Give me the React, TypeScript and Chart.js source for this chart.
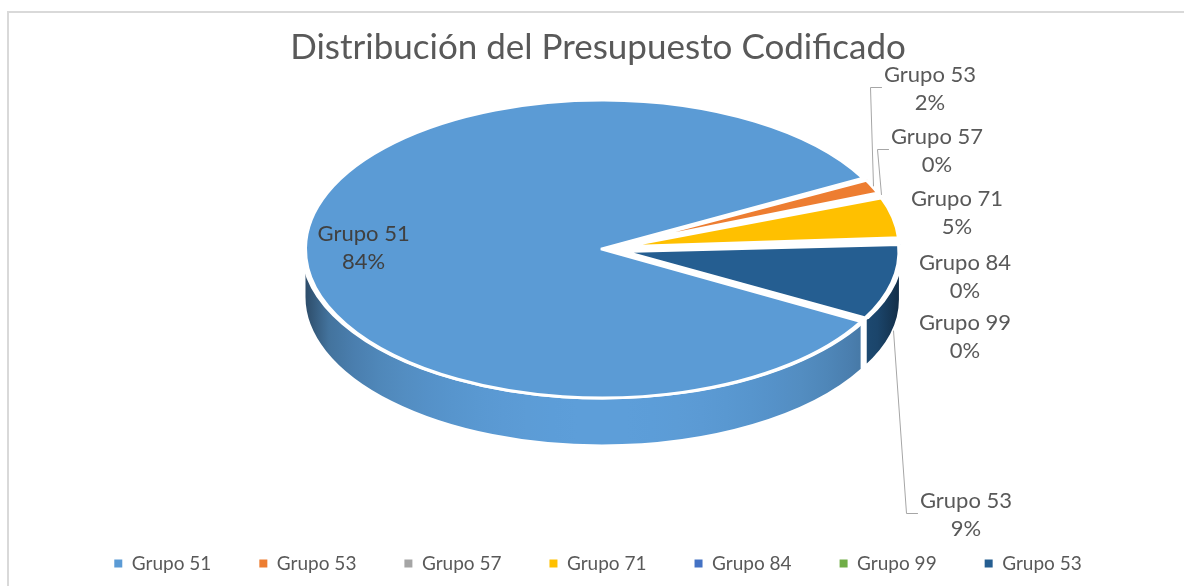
import React, { useEffect, useRef } from 'react';
import { Chart, registerables } from 'chart.js';

Chart.register(...registerables);

// ---------- data ----------
const CHART_TITLE = 'Distribución del Presupuesto Codificado';
const CATEGORIES = ['Grupo 51', 'Grupo 53', 'Grupo 57', 'Grupo 71', 'Grupo 84', 'Grupo 99', 'Grupo 53'];
const SHARES = [84, 2, 0, 5, 0, 0, 9];
const SLICE_COLORS = ['#5B9BD5', '#ED7D31', '#A5A5A5', '#FFC000', '#4472C4', '#70AD47', '#255E91'];

// ---------- layout / style ----------
const W = 1184;
const H = 586;
const FONT = 'Lato, "Open Sans", sans-serif';
const PIE_CX = 602;
const PIE_CY = 249;
const TILT = 0.5;
const DEPTH = 48;
const MAIN_RADIUS = 298;
const EXPLODED_RADIUS = 277;
const EXPLODE = [0, 88, 88, 88, 88, 88, 88];
const START_ROTATION = 119.2;
const LABEL_ANCHORS: ([number, number] | null)[] = [null, [930, 89], [937, 151], [957, 213], [965, 277], [965, 337], [966, 515]];
const HAS_LEADER = [false, true, true, false, false, false, true];

function shade(hex: string, f: number) {
  const n = parseInt(hex.slice(1), 16);
  const r = Math.min(255, Math.round(((n >> 16) & 255) * f));
  const g = Math.min(255, Math.round(((n >> 8) & 255) * f));
  const b = Math.min(255, Math.round((n & 255) * f));
  return `rgb(${r},${g},${b})`;
}

function geom(arc: any, i: number) {
  const off = (EXPLODE[i] || 0) / 4;
  const startAngle = arc.startAngle as number;
  const endAngle = arc.endAngle as number;
  const circ = endAngle - startAngle;
  const mid = (startAngle + endAngle) / 2;
  const fix = 1 - Math.sin(Math.min(Math.PI, circ));
  const r = arc.outerRadius + off * fix;
  const ax = PIE_CX + Math.cos(mid) * off;
  const ay = PIE_CY + TILT * Math.sin(mid) * off;
  return { startAngle, endAngle, circ, mid, r, ax, ay };
}

const pie3d = {
  id: 'pie3d',
  beforeDraw(chart: any) {
    const ctx = chart.ctx;
    ctx.save();
    ctx.fillStyle = '#d9d9d9';
    ctx.fillRect(7, 11, 2, H);
    ctx.fillRect(7, 11, W, 2);
    ctx.restore();
  },
  afterDatasetUpdate(chart: any) {
    const meta = chart.getDatasetMeta(0);
    meta.data.forEach((arc: any, i: number) => {
      const off = (EXPLODE[i] || 0) / 4;
      if (!off) return;
      const circ = arc.endAngle - arc.startAngle;
      const fix = 1 - Math.sin(Math.min(Math.PI, circ));
      arc.outerRadius = EXPLODED_RADIUS - off * fix;
    });
  },
  beforeDatasetsDraw(chart: any) {
    const ctx = chart.ctx;
    const meta = chart.getDatasetMeta(0);
    meta.data.forEach((arc: any, i: number) => {
      const g = geom(arc, i);
      if (g.circ <= 0) return;
      const color = SLICE_COLORS[i];
      const rr = g.r;
      for (let k = -1; k <= 2; k++) {
        const lo = Math.max(g.startAngle, 2 * Math.PI * k);
        const hi = Math.min(g.endAngle, 2 * Math.PI * k + Math.PI);
        if (hi <= lo) continue;
        const grad = ctx.createLinearGradient(g.ax - rr, 0, g.ax + rr, 0);
        for (let j = 0; j <= 24; j++) {
          const t = j / 24;
          const c = 2 * t - 1;
          const s = Math.sqrt(Math.max(0, 1 - c * c));
          grad.addColorStop(t, shade(color, 0.48 + 0.54 * Math.pow(s, 0.8)));
        }
        ctx.save();
        ctx.beginPath();
        ctx.ellipse(g.ax, g.ay, rr, rr * TILT, 0, lo, hi, false);
        ctx.ellipse(g.ax, g.ay + DEPTH, rr, rr * TILT, 0, hi, lo, true);
        ctx.closePath();
        ctx.fillStyle = grad;
        ctx.fill();
        ctx.strokeStyle = '#ffffff';
        ctx.lineWidth = 3;
        ctx.stroke();
        ctx.restore();
      }
    });
    const first = meta.data[0];
    ctx.save();
    ctx.translate(PIE_CX, PIE_CY);
    ctx.scale(1, TILT);
    ctx.translate(-first.x, -first.y);
  },
  afterDatasetsDraw(chart: any) {
    chart.ctx.restore();
  },
  afterDraw(chart: any) {
    const ctx = chart.ctx;
    const meta = chart.getDatasetMeta(0);
    const total = SHARES.reduce((a, b) => a + b, 0);
    ctx.save();
    ctx.font = `22px ${FONT}`;
    ctx.textAlign = 'center';
    ctx.textBaseline = 'middle';
    meta.data.forEach((arc: any, i: number) => {
      const g = geom(arc, i);
      const pct = Math.round((SHARES[i] / total) * 100) + '%';
      const name = CATEGORIES[i];
      let cx: number;
      let cy: number;
      const anchor = LABEL_ANCHORS[i];
      if (!anchor) {
        cx = g.ax + Math.cos(g.mid) * g.r * 0.8;
        cy = g.ay + TILT * Math.sin(g.mid) * g.r * 0.8;
        ctx.fillStyle = '#404040';
      } else {
        cx = anchor[0];
        cy = anchor[1];
        ctx.fillStyle = '#595959';
      }
      if (HAS_LEADER[i]) {
        const front = Math.sin(g.mid) > 0;
        const sx = g.ax + Math.cos(g.mid) * g.r;
        const sy = g.ay + TILT * Math.sin(g.mid) * g.r + (front ? DEPTH : 0);
        const left = cx - ctx.measureText(name).width / 2;
        ctx.save();
        ctx.strokeStyle = '#a6a6a6';
        ctx.lineWidth = 1;
        ctx.beginPath();
        ctx.moveTo(Math.round(sx) + 0.5, sy);
        ctx.lineTo(Math.round(left - 14) + 0.5, Math.round(cy - 2) + 0.5);
        ctx.lineTo(left - 2, Math.round(cy - 2) + 0.5);
        ctx.stroke();
        ctx.restore();
      }
      ctx.fillText(name, cx, cy - 14);
      ctx.fillText(pct, cx, cy + 14);
    });
    ctx.restore();
  },
};

export default function App() {
  const canvasRef = useRef<HTMLCanvasElement | null>(null);

  useEffect(() => {
    const canvas = canvasRef.current;
    if (!canvas) return;
    const chart = new Chart(canvas, {
      type: 'pie',
      data: {
        labels: CATEGORIES,
        datasets: [
          {
            data: SHARES,
            backgroundColor: SLICE_COLORS,
            borderColor: '#ffffff',
            borderWidth: 6,
            offset: EXPLODE,
            radius: MAIN_RADIUS,
            rotation: START_ROTATION,
            clip: 2000,
          } as any,
        ],
      },
      options: {
        responsive: false,
        animation: false,
        devicePixelRatio: 1,
        events: [],
        layout: { padding: { left: 20, right: 8, top: 20, bottom: 3 } },
        plugins: {
          title: {
            display: true,
            text: CHART_TITLE,
            color: '#595959',
            font: { family: FONT, size: 35, weight: 'normal' as any },
            padding: { top: 7, bottom: 10 },
          },
          legend: {
            position: 'bottom',
            labels: {
              boxWidth: 8,
              boxHeight: 8,
              padding: 48,
              color: '#595959',
              font: { family: FONT, size: 19 },
              generateLabels: (c: any) =>
                (c.data.labels as string[]).map((l, i) => ({
                  text: l,
                  fillStyle: SLICE_COLORS[i],
                  strokeStyle: SLICE_COLORS[i],
                  lineWidth: 0,
                  hidden: false,
                  index: i,
                  fontColor: '#595959',
                })),
            },
          },
          tooltip: { enabled: false },
        },
      } as any,
      plugins: [pie3d as any],
    });
    return () => chart.destroy();
  }, []);

  return (
    <div style={{ position: 'fixed', left: 0, top: 0, width: W, height: H, background: '#ffffff' }}>
      <canvas ref={canvasRef} width={W} height={H} style={{ display: 'block', width: W, height: H }} />
    </div>
  );
}
